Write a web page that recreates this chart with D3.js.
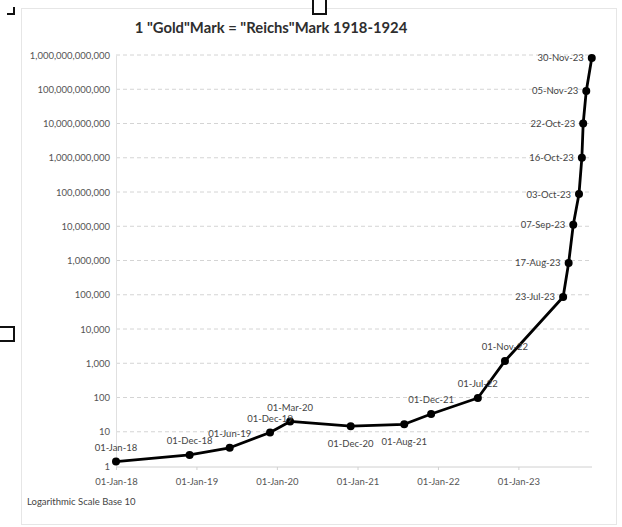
<!DOCTYPE html>
<html>
<head>
<meta charset="utf-8">
<script src="https://cdn.jsdelivr.net/npm/d3@7"></script>
<style>
  html, body { margin: 0; padding: 0; background: #ffffff; }
  svg { display: block; font-family: Lato, "Open Sans", sans-serif; }
</style>
</head>
<body>
<svg id="chart" width="622" height="527"></svg>
<script>
// Price of one gold mark in paper marks, 1918-1923
const dates = [
  "1918-01-01", "1918-12-01", "1919-06-01", "1919-12-01", "1920-03-01",
  "1920-12-01", "1921-08-01", "1921-12-01", "1922-07-01", "1922-11-01",
  "1923-07-23", "1923-08-17", "1923-09-07", "1923-10-03", "1923-10-16",
  "1923-10-22", "1923-11-05", "1923-11-30"
];
const values = [
  1.35, 2.1, 3.4, 9.5, 20,
  14.5, 16.5, 33, 97, 1170,
  86000, 850000, 1.1e7, 8.7e7, 1e9,
  1e10, 8.9e10, 8.2e11
];
const yTickValues = [1, 10, 100, 1e3, 1e4, 1e5, 1e6, 1e7, 1e8, 1e9, 1e10, 1e11, 1e12];
const xTickDates = ["1918-01-01", "1919-01-01", "1920-01-01", "1921-01-01", "1922-01-01", "1923-01-01"];
const titleText = "1 \"Gold\"Mark = \"Reichs\"Mark 1918-1924";
const noteText = "Logarithmic Scale Base 10";

const parse = d3.timeParse("%Y-%m-%d");
const fmtDate = d3.timeFormat("%d-%b-%y");
const fmtKey = d3.timeFormat("%Y-%m-%d");
const fmtNum = d3.format(",.0f");

const data = dates.map((d, i) => ({ date: parse(d), value: values[i] }));

const svg = d3.select("#chart");

// plot area
const plotLeft = 116, plotRight = 592, plotTop = 55, plotBottom = 466;

const x = d3.scaleTime()
  .domain([parse("1918-01-01"), parse("1923-12-01")])
  .range([plotLeft, plotRight]);
const y = d3.scaleLog()
  .domain([1, 1e12])
  .range([plotBottom, plotTop]);

// chart frame
svg.append("rect")
  .attr("x", 21.5).attr("y", 8.5)
  .attr("width", 595).attr("height", 516)
  .attr("fill", "none").attr("stroke", "#e6e6e6");

// selection handles around the frame
const handles = svg.append("g").attr("fill", "none").attr("stroke", "#111").attr("stroke-width", 2);
handles.append("path").attr("d", "M7,14 H14 V7");
handles.append("path").attr("d", "M313,0 V14 H326 V0").attr("fill", "#fff");
handles.append("path").attr("d", "M0,327 H14 V341 H0").attr("fill", "#fff");

// title
svg.append("text")
  .attr("x", 271).attr("y", 33)
  .attr("text-anchor", "middle")
  .attr("font-size", 14.8).attr("font-weight", 700)
  .attr("fill", "#2e2e2e")
  .text(titleText);

// horizontal gridlines
svg.append("g")
  .selectAll("line")
  .data(yTickValues.slice(1))
  .join("line")
  .attr("x1", plotLeft).attr("x2", plotRight)
  .attr("y1", d => y(d)).attr("y2", d => y(d))
  .attr("stroke", "#d4d4d4")
  .attr("stroke-dasharray", "4,3");

// y axis
const yAxis = d3.axisLeft(y)
  .tickValues(yTickValues)
  .tickFormat(fmtNum)
  .tickSize(0)
  .tickPadding(6);
const gy = svg.append("g")
  .attr("transform", `translate(${plotLeft},0)`)
  .call(yAxis);
gy.select(".domain").attr("stroke", "#e0e0e0");
gy.selectAll("text")
  .attr("font-family", "Lato, sans-serif")
  .attr("font-size", 9.5)
  .attr("fill", "#555");

// x axis
const xAxis = d3.axisBottom(x)
  .tickValues(xTickDates.map(parse))
  .tickFormat(fmtDate)
  .tickSize(3)
  .tickPadding(8);
const gx = svg.append("g")
  .attr("transform", `translate(0,${plotBottom + 1})`)
  .call(xAxis);
gx.select(".domain").attr("stroke", "#d0d0d0").attr("d", `M${plotLeft},0H${plotRight}`);
gx.selectAll(".tick line").attr("stroke", "#d0d0d0");
gx.selectAll("text")
  .attr("font-family", "Lato, sans-serif")
  .attr("font-size", 9.5)
  .attr("fill", "#555");

// series line
const line = d3.line()
  .x(d => x(d.date))
  .y(d => y(d.value));
svg.append("path")
  .datum(data)
  .attr("d", line)
  .attr("fill", "none")
  .attr("stroke", "#000")
  .attr("stroke-width", 2.8)
  .attr("stroke-linejoin", "round");

// markers
svg.append("g")
  .selectAll("circle")
  .data(data)
  .join("circle")
  .attr("cx", d => x(d.date))
  .attr("cy", d => y(d.value))
  .attr("r", 4)
  .attr("fill", "#000");

// point labels: dates shown next to each marker
const below = new Set(["1920-12-01", "1921-08-01"]);
const lateStart = parse("1923-07-01");
svg.append("g")
  .selectAll("text")
  .data(data)
  .join("text")
  .attr("font-size", 9.5)
  .attr("fill", "#444")
  .attr("text-anchor", d => d.date >= lateStart ? "end" : "middle")
  .attr("x", d => d.date >= lateStart ? x(d.date) - 8 : x(d.date))
  .attr("y", d => {
    const py = y(d.value);
    if (d.date >= lateStart) return py + 3.5;
    if (below.has(fmtKey(d.date))) return py + 20.5;
    return py - 10.5;
  })
  .text(d => fmtDate(d.date));

// scale note
svg.append("text")
  .attr("x", 27).attr("y", 504.5)
  .attr("font-size", 9.5)
  .attr("fill", "#444")
  .text(noteText);
</script>
</body>
</html>
